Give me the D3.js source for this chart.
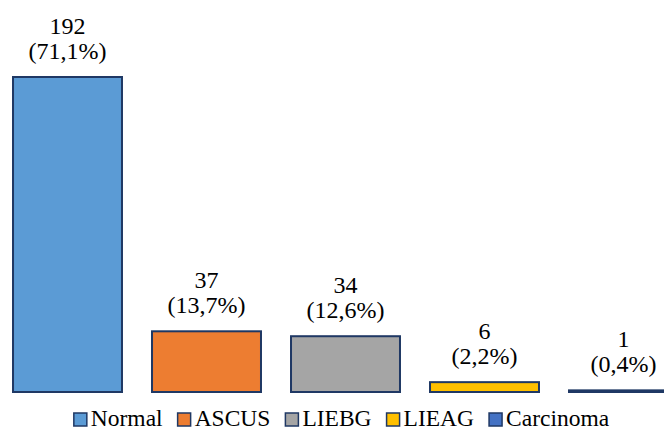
<!DOCTYPE html>
<html>
<head>
<meta charset="utf-8">
<script src="https://cdn.jsdelivr.net/npm/d3@7"></script>
</head>
<body style="margin:0;background:#fff">
<svg id="chart" width="664" height="432" style="display:block"></svg>
<script>
// Cytology results: counts and share of total
const categories = ["Normal", "ASCUS", "LIEBG", "LIEAG", "Carcinoma"];
const counts = [192, 37, 34, 6, 1];
const percents = ["71,1%", "13,7%", "12,6%", "2,2%", "0,4%"];
const colors = ["#5B9BD5", "#ED7D31", "#A5A5A5", "#FFC000", "#4472C4"];

const W = 664, H = 432;
const outline = "#1F3864";
const serif = '"Liberation Serif"';

const svg = d3.select("#chart");

const x = d3.scaleBand()
  .domain(categories)
  .range([-2, 693])
  .paddingInner(0.216)
  .paddingOuter(0.108);

const y = d3.scaleLinear()
  .domain([0, 192])
  .range([392, 77]);

svg.append("g")
  .selectAll("rect")
  .data(categories)
  .join("rect")
  .attr("x", d => x(d))
  .attr("y", (d, i) => y(counts[i]))
  .attr("width", x.bandwidth())
  .attr("height", (d, i) => y(0) - y(counts[i]))
  .attr("fill", (d, i) => colors[i])
  .attr("stroke", outline)
  .attr("stroke-width", 2);

function serifText(sel, size) {
  sel.attr("font-family", "Liberation Serif")
    .style("font-family", serif)
    .style("font-size", size + "px");
}

// Value labels: count on the first line, percentage below
const labels = svg.append("g").attr("text-anchor", "middle");

labels.selectAll("text.count")
  .data(categories)
  .join("text")
  .attr("class", "count")
  .call(serifText, 24)
  .attr("x", d => x(d) + x.bandwidth() / 2)
  .attr("y", (d, i) => y(counts[i]) - 43)
  .text((d, i) => counts[i]);

labels.selectAll("text.pct")
  .data(categories)
  .join("text")
  .attr("class", "pct")
  .call(serifText, 24)
  .attr("x", d => x(d) + x.bandwidth() / 2)
  .attr("y", (d, i) => y(counts[i]) - 18)
  .text((d, i) => "(" + percents[i] + ")");

// Legend along the bottom
const legend = svg.append("g");

let cx = 0;
categories.forEach((c, i) => {
  const g = legend.append("g").attr("transform", `translate(${cx},0)`);
  g.append("rect")
    .attr("x", 0).attr("y", -13)
    .attr("width", 13).attr("height", 13)
    .attr("fill", colors[i])
    .attr("stroke", outline)
    .attr("stroke-width", 1.5);
  const t = g.append("text")
    .call(serifText, 23.5)
    .attr("x", 17).attr("y", 0)
    .text(c);
  const w = t.node().getComputedTextLength();
  cx += 17 + w + 15;
});
const totalW = cx - 15;
legend.attr("transform", `translate(${75 + (533 - totalW) / 2},426)`);
</script>
</body>
</html>
